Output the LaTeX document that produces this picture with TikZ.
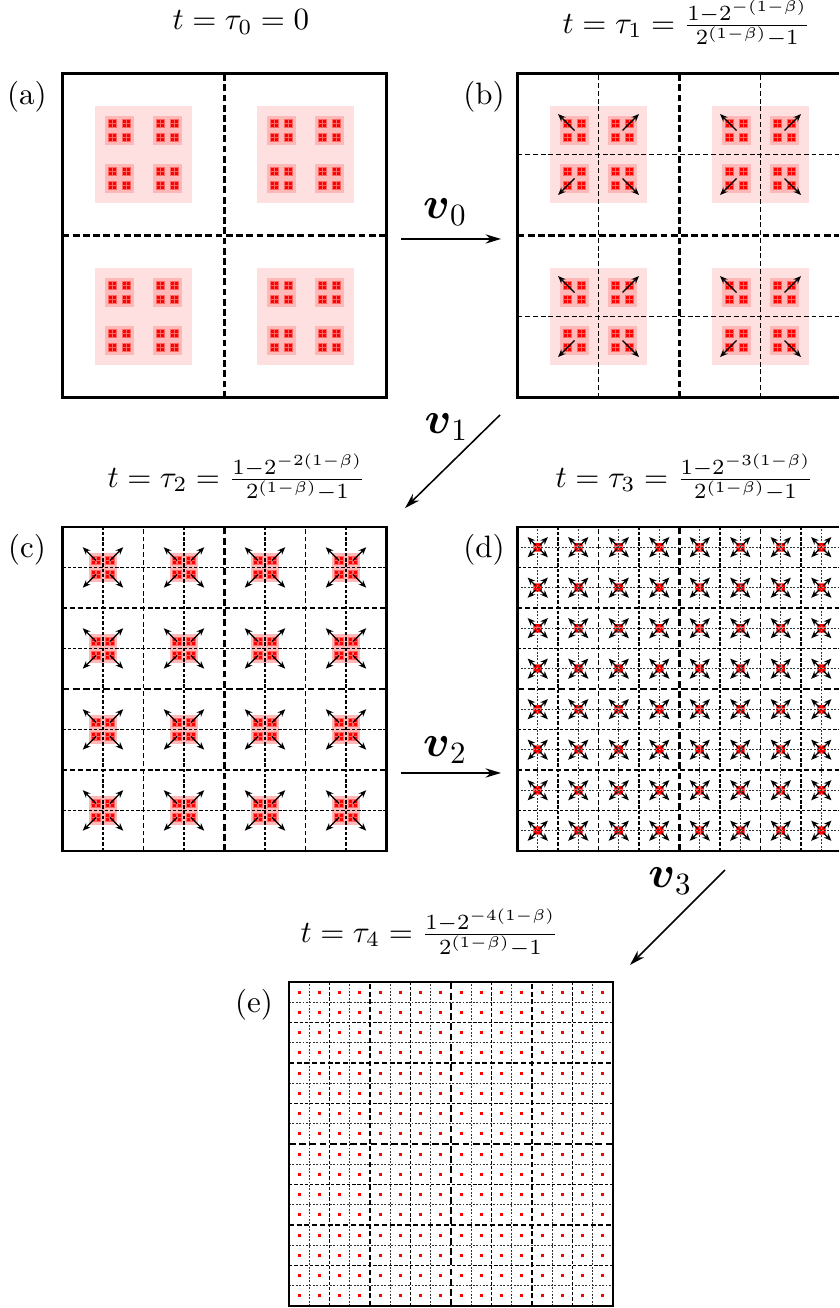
\documentclass[tikz,border=0pt]{standalone}
\usepackage{amsmath}
\usetikzlibrary{arrows.meta}

% squares of the four levels, #1,#2,#3 = offsets of levels 2,3,4, #4 = coarsest level shown
\newcommand{\clusters}[4]{%
  \foreach \ax in {4,12} {\foreach \ay in {4,12} {%
    \ifnum#4<2 \fill[lvone] (\ax-2.4,\ay-2.4) rectangle ++(4.8,4.8);\fi
    \foreach \bx in {-1,1} {\foreach \by in {-1,1} {%
      \pgfmathsetmacro\mx{\ax+\bx*#1}\pgfmathsetmacro\my{\ay+\by*#1}%
      \ifnum#4<3 \fill[lvtwo] (\mx-0.715,\my-0.715) rectangle ++(1.43,1.43);\fi
      \foreach \cx in {-1,1} {\foreach \cy in {-1,1} {%
        \pgfmathsetmacro\sx{\mx+\cx*#2}\pgfmathsetmacro\sy{\my+\cy*#2}%
        \ifnum#4<4 \fill[lvthree] (\sx-0.23,\sy-0.23) rectangle ++(0.46,0.46);\fi
        \foreach \dx in {-1,1} {\foreach \dy in {-1,1} {%
          \fill[lvfour] ({\sx+\dx*#3-0.075},{\sy+\dy*#3-0.075}) rectangle ++(0.15,0.15);
        }}%
      }}%
    }}%
  }}}

% arrows of the level #4 that moves next
\newcommand{\moves}[4]{%
  \foreach \ax in {4,12} {\foreach \ay in {4,12} {%
    \foreach \bx in {-1,1} {\foreach \by in {-1,1} {%
      \pgfmathsetmacro\mx{\ax+\bx*#1}\pgfmathsetmacro\my{\ay+\by*#1}%
      \ifnum#4=2 \draw[move] (\mx,\my) -- ({\ax+2*\bx},{\ay+2*\by});\else
      \foreach \cx in {-1,1} {\foreach \cy in {-1,1} {%
        \pgfmathsetmacro\sx{\mx+\cx*#2}\pgfmathsetmacro\sy{\my+\cy*#2}%
        \ifnum#4=3 \draw[move] (\sx,\sy) -- ({\mx+\cx},{\my+\cy});\else
        \foreach \dx in {-1,1} {\foreach \dy in {-1,1} {%
          \draw[move] ({\sx+\dx*#3},{\sy+\dy*#3}) -- ({\sx+0.5*\dx},{\sy+0.5*\dy});
        }}\fi
      }}\fi
    }}%
  }}}

% dashed cuts down to level #1 and the frame
\newcommand{\cuts}[1]{%
  \ifnum#1>3 \foreach \g in {1,3,...,15} \draw[cutfour] (\g,0) -- (\g,16) (0,\g) -- (16,\g);\fi
  \ifnum#1>2 \foreach \g in {2,6,10,14} \draw[cutthree] (\g,0) -- (\g,16) (0,\g) -- (16,\g);\fi
  \ifnum#1>1 \foreach \g in {4,12} \draw[cuttwo] (\g,0) -- (\g,16) (0,\g) -- (16,\g);\fi
  \draw[cutone] (8,0) -- (8,16) (0,8) -- (16,8);
  \draw[frame] (0,0) rectangle (16,16);}

\begin{document}
\begin{tikzpicture}[x=0.23cm,y=0.23cm,
  lvone/.style={fill=red!12}, lvtwo/.style={fill=red!28},
  lvthree/.style={fill=red!60}, lvfour/.style={fill=red},
  cutone/.style={line width=0.75pt,dash pattern=on 2.2pt off 1.1pt},
  cuttwo/.style={line width=0.55pt,dash pattern=on 1.6pt off 0.9pt},
  cutthree/.style={line width=0.42pt,dash pattern=on 1.1pt off 0.6pt},
  cutfour/.style={line width=0.35pt,black!80,dash pattern=on 0.6pt off 0.5pt},
  frame/.style={line width=0.75pt},
  move/.style={line width=0.4pt,-{Stealth[length=2.5pt,width=2pt]}},
  jump/.style={line width=0.5pt,-{Stealth[length=5pt,width=3pt]}},
  tag/.style={inner sep=0pt}]
\useasboundingbox (0,0) rectangle (41.43,-64.59);
\clip (0,0) rectangle (41.43,-64.59);

% (a)
\begin{scope}[shift={(3.086,-19.63)}]
\clusters{1.185}{0.345}{0.11}{1}
\cuts{1}
\end{scope}
% (b)
\begin{scope}[shift={(25.556,-19.63)}]
\clusters{1.185}{0.345}{0.11}{1}
\cuts{2}
\moves{1.185}{0.345}{0.11}{2}
\end{scope}
% (c)
\begin{scope}[shift={(3.086,-42.02)}]
\clusters{2}{0.345}{0.11}{2}
\cuts{3}
\moves{2}{0.345}{0.11}{3}
\end{scope}
% (d)
\begin{scope}[shift={(25.556,-42.02)}]
\clusters{2}{1}{0.11}{3}
\cuts{4}
\moves{2}{1}{0.11}{4}
\end{scope}
% (e)
\begin{scope}[shift={(14.27,-64.49)}]
\clusters{2}{1}{0.5}{4}
\cuts{4}
\end{scope}

% times
\node[tag,anchor=base west] (ta) at (8.49,-1.48) {$t=\tau_0=0$};
\node[tag,anchor=base west] (tb) at (27.75,-1.63) {$t=\tau_1=\frac{1-2^{-(1-\beta)}}{2^{(1-\beta)}-1}$};
\node[tag,anchor=base west] (tc) at (5.28,-24.05) {$t=\tau_2=\frac{1-2^{-2(1-\beta)}}{2^{(1-\beta)}-1}$};
\node[tag,anchor=base west] (td) at (27.41,-24.05) {$t=\tau_3=\frac{1-2^{-3(1-\beta)}}{2^{(1-\beta)}-1}$};
\node[tag,anchor=base west] (te) at (14.81,-46.52) {$t=\tau_4=\frac{1-2^{-4(1-\beta)}}{2^{(1-\beta)}-1}$};

% panel letters
\node (la) at (1.33,-4.79) {(a)};
\node (lb) at (23.90,-4.79) {(b)};
\node (lc) at (1.33,-27.16) {(c)};
\node (ld) at (23.90,-27.16) {(d)};
\node (le) at (12.54,-49.63) {(e)};

% steps between the panels
\coordinate (v0s) at (19.80,-11.80);
\coordinate (v0e) at (24.74,-11.80);
\coordinate (v1s) at (24.69,-20.49);
\coordinate (v1e) at (20.00,-25.09);
\coordinate (v2s) at (19.80,-38.17);
\coordinate (v2e) at (24.74,-38.17);
\coordinate (v3s) at (35.80,-42.96);
\coordinate (v3e) at (31.11,-47.65);
\draw[jump] (v0s) -- (v0e);
\draw[jump] (v1s) -- (v1e);
\draw[jump] (v2s) -- (v2e);
\draw[jump] (v3s) -- (v3e);
\node (nv0) at (21.98,-10.47) {\Large$\boldsymbol{v}_0$};
\node (nv1) at (22.05,-21.10) {\Large$\boldsymbol{v}_1$};
\node (nv2) at (21.98,-37.04) {\Large$\boldsymbol{v}_2$};
\node (nv3) at (33.10,-43.50) {\Large$\boldsymbol{v}_3$};
\end{tikzpicture}
\end{document}
